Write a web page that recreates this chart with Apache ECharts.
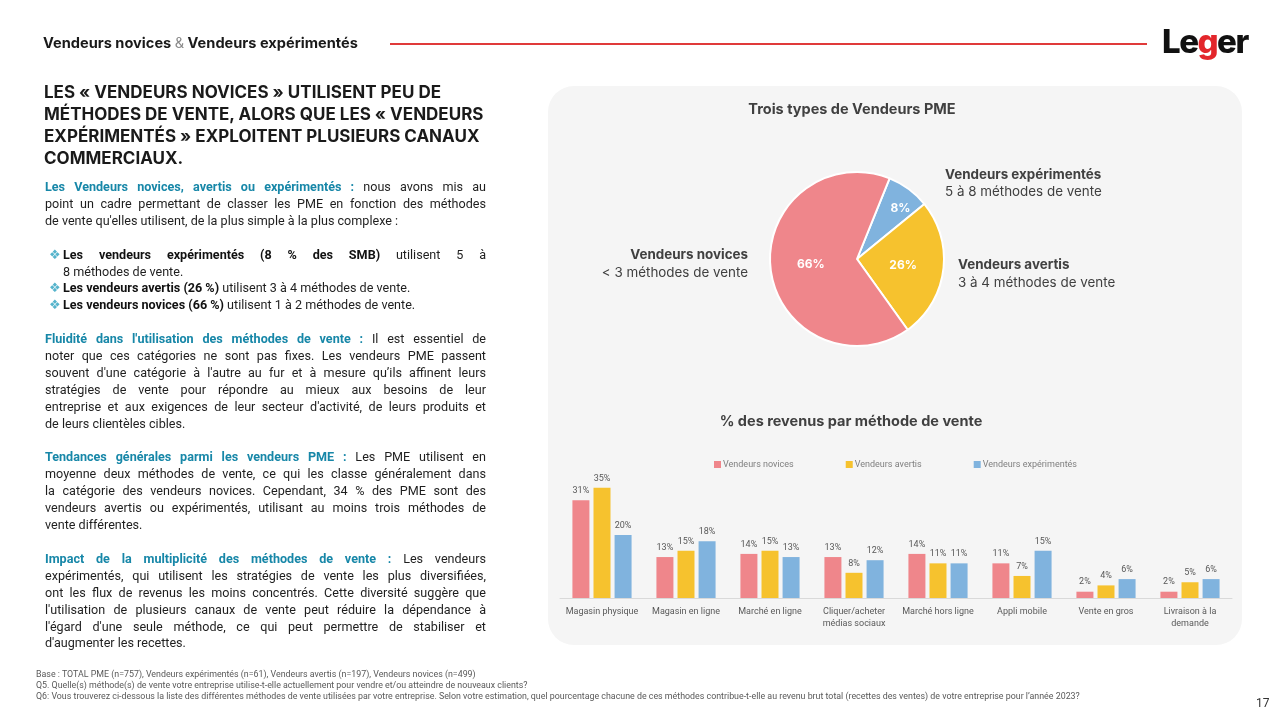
<!DOCTYPE html>
<html><head><meta charset="utf-8">
<script src="https://cdn.jsdelivr.net/npm/echarts@6/dist/echarts.min.js"></script>
<style>
body{margin:0;width:1280px;height:720px;background:#fff;position:relative;overflow:hidden;font-family:Inter,Roboto,sans-serif;color:#222;}
#panel{position:absolute;left:548px;top:86px;width:694px;height:559px;border-radius:26px;background:#f5f5f5;}
#chart{position:absolute;left:0;top:0;width:1280px;height:720px;}
.abs{position:absolute;}
#hdr{left:43px;top:34px;font:700 14.6px Inter,sans-serif;color:#1a1a1a;white-space:nowrap;}
#hdr .amp{font-weight:400;color:#8a8a8a;}
#rule{left:390px;top:43px;width:757px;height:2px;background:#e03a3a;}
#logo{left:1162px;top:21px;font:800 33px Inter,sans-serif;color:#111;letter-spacing:-1.5px;}
#logo span{color:#e3262b;}
#title{left:44px;top:81px;font:700 17px Inter,sans-serif;line-height:22px;color:#1a1a1a;white-space:nowrap;}
#body{left:45px;top:179px;width:441px;font:400 12.6px Roboto,sans-serif;line-height:16.9px;color:#1f1f1f;}
#body .j{text-align:justify;text-align-last:justify;}
#body .h{color:#1787a8;font-weight:700;}
#body b{font-weight:700;color:#111;}
#body .gap{height:16.9px;}
#body .bl{position:relative;padding-left:18px;}
#body .bl .d{position:absolute;left:4px;top:0px;color:#56b4cc;font-family:'DejaVu Sans';font-size:13px;}
#foot{left:36px;top:669px;font:400 8.85px Roboto,sans-serif;line-height:11px;color:#595959;white-space:nowrap;}
#pnum{left:1256px;top:696px;font:400 12px Roboto,sans-serif;color:#333;}
</style></head>
<body>
<div id="panel"></div>
<div id="chart"></div>
<div class="abs" id="hdr">Vendeurs novices <span class="amp">&amp;</span> Vendeurs expérimentés</div>
<div class="abs" id="rule"></div>
<div class="abs" id="logo">Le<span>g</span>er</div>
<div class="abs" id="title">LES « VENDEURS NOVICES » UTILISENT PEU DE<br>MÉTHODES DE VENTE, ALORS QUE LES « VENDEURS<br>EXPÉRIMENTÉS » EXPLOITENT PLUSIEURS CANAUX<br>COMMERCIAUX.</div>
<div class="abs" id="body">
<div class="j"><span class="h">Les Vendeurs novices, avertis ou expérimentés :</span> nous avons mis au</div>
<div class="j">point un cadre permettant de classer les PME en fonction des méthodes</div>
<div>de vente qu'elles utilisent, de la plus simple à la plus complexe :</div>
<div class="gap"></div>
<div class="bl j"><span class="d">❖</span><b>Les vendeurs expérimentés (8 % des SMB)</b> utilisent 5 à</div>
<div class="bl">8 méthodes de vente.</div>
<div class="bl"><span class="d">❖</span><b>Les vendeurs avertis (26 %)</b> utilisent 3 à 4 méthodes de vente.</div>
<div class="bl"><span class="d">❖</span><b>Les vendeurs novices (66 %)</b> utilisent 1 à 2 méthodes de vente.</div>
<div class="gap"></div>
<div class="j"><span class="h">Fluidité dans l'utilisation des méthodes de vente :</span> Il est essentiel de</div>
<div class="j">noter que ces catégories ne sont pas fixes. Les vendeurs PME passent</div>
<div class="j">souvent d'une catégorie à l'autre au fur et à mesure qu’ils affinent leurs</div>
<div class="j">stratégies de vente pour répondre au mieux aux besoins de leur</div>
<div class="j">entreprise et aux exigences de leur secteur d'activité, de leurs produits et</div>
<div>de leurs clientèles cibles.</div>
<div class="gap"></div>
<div class="j"><span class="h">Tendances générales parmi les vendeurs PME :</span> Les PME utilisent en</div>
<div class="j">moyenne deux méthodes de vente, ce qui les classe généralement dans</div>
<div class="j">la catégorie des vendeurs novices. Cependant, 34 % des PME sont des</div>
<div class="j">vendeurs avertis ou expérimentés, utilisant au moins trois méthodes de</div>
<div>vente différentes.</div>
<div class="gap"></div>
<div class="j"><span class="h">Impact de la multiplicité des méthodes de vente :</span> Les vendeurs</div>
<div class="j">expérimentés, qui utilisent les stratégies de vente les plus diversifiées,</div>
<div class="j">ont les flux de revenus les moins concentrés. Cette diversité suggère que</div>
<div class="j">l'utilisation de plusieurs canaux de vente peut réduire la dépendance à</div>
<div class="j">l'égard d'une seule méthode, ce qui peut permettre de stabiliser et</div>
<div>d'augmenter les recettes.</div>
</div>
<div class="abs" id="foot">Base : TOTAL PME (n=757), Vendeurs expérimentés (n=61), Vendeurs avertis (n=197), Vendeurs novices (n=499)<br>Q5. Quelle(s) méthode(s) de vente votre entreprise utilise-t-elle actuellement pour vendre et/ou atteindre de nouveaux clients?<br>Q6: Vous trouverez ci-dessous la liste des différentes méthodes de vente utilisées par votre entreprise. Selon votre estimation, quel pourcentage chacune de ces méthodes contribue-t-elle au revenu brut total (recettes des ventes) de votre entreprise pour l’année 2023?</div>
<div class="abs" id="pnum">17</div>
<script>
// ---- Data ----
const pieNames = ['Vendeurs expérimentés', 'Vendeurs avertis', 'Vendeurs novices'];
const pieValues = [8, 26, 66];
const categories = ['Magasin physique', 'Magasin en ligne', 'Marché en ligne', 'Cliquer/acheter\nmédias sociaux', 'Marché hors ligne', 'Appli mobile', 'Vente en gros', 'Livraison à la\ndemande'];
const seriesNames = ['Vendeurs novices', 'Vendeurs avertis', 'Vendeurs expérimentés'];
const novices = [31, 13, 14, 13, 14, 11, 2, 2];
const avertis = [35, 15, 15, 8, 11, 7, 4, 5];
const experimentes = [20, 18, 13, 12, 11, 15, 6, 6];

const RED = '#ef868b', YEL = '#f6c22e', BLU = '#80b3de';
const TXT = '#404040';
const chart = echarts.init(document.getElementById('chart'), null, {renderer: 'canvas'});

function gtext(x, y, text, opt) {
  return {type: 'text', x: x, y: y, silent: true,
    style: Object.assign({text: text, fill: TXT, align: 'left', verticalAlign: 'middle',
      font: '400 13.4px Inter, sans-serif'}, opt || {})};
}
const pieLabel = {position: 'inside', formatter: '{c}%', color: '#ffffff', fontWeight: 'bold', fontSize: 12, fontFamily: 'Inter, sans-serif'};

const option = {
  animation: false,
  backgroundColor: 'transparent',
  textStyle: {fontFamily: 'Inter, Roboto, sans-serif'},
  legend: {
    data: seriesNames, left: 714, top: 460, padding: 0,
    itemWidth: 7, itemHeight: 7, itemGap: 52, icon: 'rect',
    textStyle: {fontSize: 9, color: '#7f7f7f', fontFamily: 'Roboto, sans-serif', padding: [0, 0, 0, -3]}
  },
  grid: {left: 560, right: 48, top: 472, bottom: 122},
  xAxis: {
    type: 'category', data: categories,
    axisLine: {lineStyle: {color: '#d9d9d9', width: 1}},
    axisTick: {show: false},
    axisLabel: {color: '#595959', fontSize: 9, lineHeight: 12, margin: 8, interval: 0, fontFamily: 'Roboto, sans-serif'}
  },
  yAxis: {type: 'value', min: 0, max: 40, show: false, splitLine: {show: false}},
  series: [
    {
      type: 'pie', center: [857, 259], radius: [0, 87], startAngle: 68, clockwise: true,
      data: pieNames.map((n, i) => ({name: n, value: pieValues[i], itemStyle: {color: [BLU, YEL, RED][i]},
        label: {show: i !== 0}})),
      itemStyle: {borderColor: '#ffffff', borderWidth: 2},
      label: pieLabel,
      labelLine: {show: false}, emphasis: {disabled: true}, silent: true
    },
    {
      // label-only overlay for the small slice, placed further out
      type: 'pie', center: [857, 259], radius: [0, 128], startAngle: 64, clockwise: true,
      data: pieNames.map((n, i) => ({name: n, value: pieValues[i], label: {show: i === 0}})),
      itemStyle: {color: 'rgba(0,0,0,0)', borderWidth: 0},
      label: pieLabel, labelLine: {show: false}, emphasis: {disabled: true}, silent: true, z: 5
    },
    {name: seriesNames[0], type: 'bar', data: novices, itemStyle: {color: RED}, barWidth: 17, barGap: '24%',
      label: {show: true, position: 'top', distance: 5, formatter: '{c}%', color: '#595959', fontSize: 9, fontFamily: 'Roboto, sans-serif'}},
    {name: seriesNames[1], type: 'bar', data: avertis, itemStyle: {color: YEL}, barWidth: 17, barGap: '24%',
      label: {show: true, position: 'top', distance: 5, formatter: '{c}%', color: '#595959', fontSize: 9, fontFamily: 'Roboto, sans-serif'}},
    {name: seriesNames[2], type: 'bar', data: experimentes, itemStyle: {color: BLU}, barWidth: 17, barGap: '24%',
      label: {show: true, position: 'top', distance: 5, formatter: '{c}%', color: '#595959', fontSize: 9, fontFamily: 'Roboto, sans-serif'}}
  ],
  graphic: [
    gtext(852, 110, 'Trois types de Vendeurs PME', {align: 'center', font: '700 14.5px Inter, sans-serif'}),
    gtext(851, 422, '% des revenus par méthode de vente', {align: 'center', font: '700 14.5px Inter, sans-serif'}),
    gtext(945, 175, 'Vendeurs expérimentés', {font: '700 13.4px Inter, sans-serif'}),
    gtext(945, 192, '5 à 8 méthodes de vente'),
    gtext(958, 265, 'Vendeurs avertis', {font: '700 13.4px Inter, sans-serif'}),
    gtext(958, 283, '3 à 4 méthodes de vente'),
    gtext(748, 255, 'Vendeurs novices', {align: 'right', font: '700 13.4px Inter, sans-serif'}),
    gtext(748, 273, '< 3 méthodes de vente', {align: 'right'})
  ]
};
chart.setOption(option);
</script>
</body></html>
